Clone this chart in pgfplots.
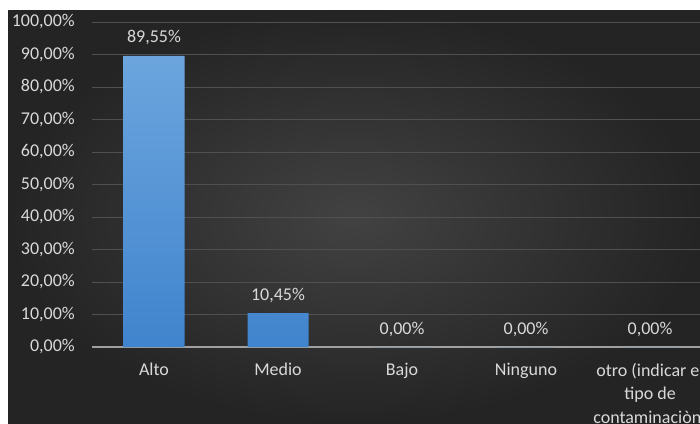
\documentclass[border=0pt]{standalone}
\usepackage{fontspec}
\setmainfont{Carlito}
\usepackage{pgfplots}
\pgfplotsset{compat=1.18}
\definecolor{bg1}{RGB}{66,66,66}
\definecolor{bg2}{RGB}{36,36,36}
\definecolor{txt}{RGB}{217,217,217}
\definecolor{gridc}{RGB}{80,80,80}
\definecolor{zeroc}{RGB}{160,160,160}
\definecolor{barA}{RGB}{108,165,222}
\definecolor{barB}{RGB}{64,132,205}
\begin{document}
\begin{tikzpicture}[x=1pt,y=1pt]
\useasboundingbox (0,0) rectangle (700,423);
\clip (0,0) rectangle (700,423);
\fill[white] (0,0) rectangle (700,423);
\shade[inner color=bg1, outer color=bg2] (8,0) rectangle (700,412);
\begin{axis}[
  at={(92pt,76pt)}, anchor=south west,
  scale only axis, width=620pt, height=325pt,
  xmin=-0.5, xmax=4.5, ymin=0, ymax=100,
  ybar, bar width=61pt,
  xtick=data,
  xticklabels={Alto, Medio, Bajo, Ninguno, {otro (indicar el\\tipo de\\contaminaciòn)}},
  ytick={0,10,...,100},
  ymajorgrids, grid style={gridc, line width=0.9pt},
  extra y ticks={0}, extra y tick labels={},
  extra y tick style={grid style={zeroc, line width=1.4pt}},
  axis line style={draw=none},
  major tick length=0pt,
  /pgf/number format/assume math mode=true,
  yticklabel={\pgfmathprintnumber[fixed,fixed zerofill,precision=2,use comma]{\tick}\%},
  yticklabel style={anchor=east, inner sep=0pt, xshift=-17pt, font=\fontsize{18}{22}\selectfont, text=txt},
  xticklabel style={anchor=north, inner sep=0pt, yshift=-16pt, align=center, font=\fontsize{18}{23.5}\selectfont, text=txt},
  nodes near coords={\pgfmathprintnumber[fixed,fixed zerofill,precision=2,use comma]{\pgfplotspointmeta}\%},
  nodes near coords style={anchor=south, inner sep=0pt, yshift=10.5pt, font=\fontsize{18}{22}\selectfont, text=txt},
  clip=false,
]
\addplot[draw=none, top color=barA, bottom color=barB] coordinates {(0,89.55) (1,10.45) (2,0) (3,0) (4,0)};
\end{axis}
\end{tikzpicture}
\end{document}
